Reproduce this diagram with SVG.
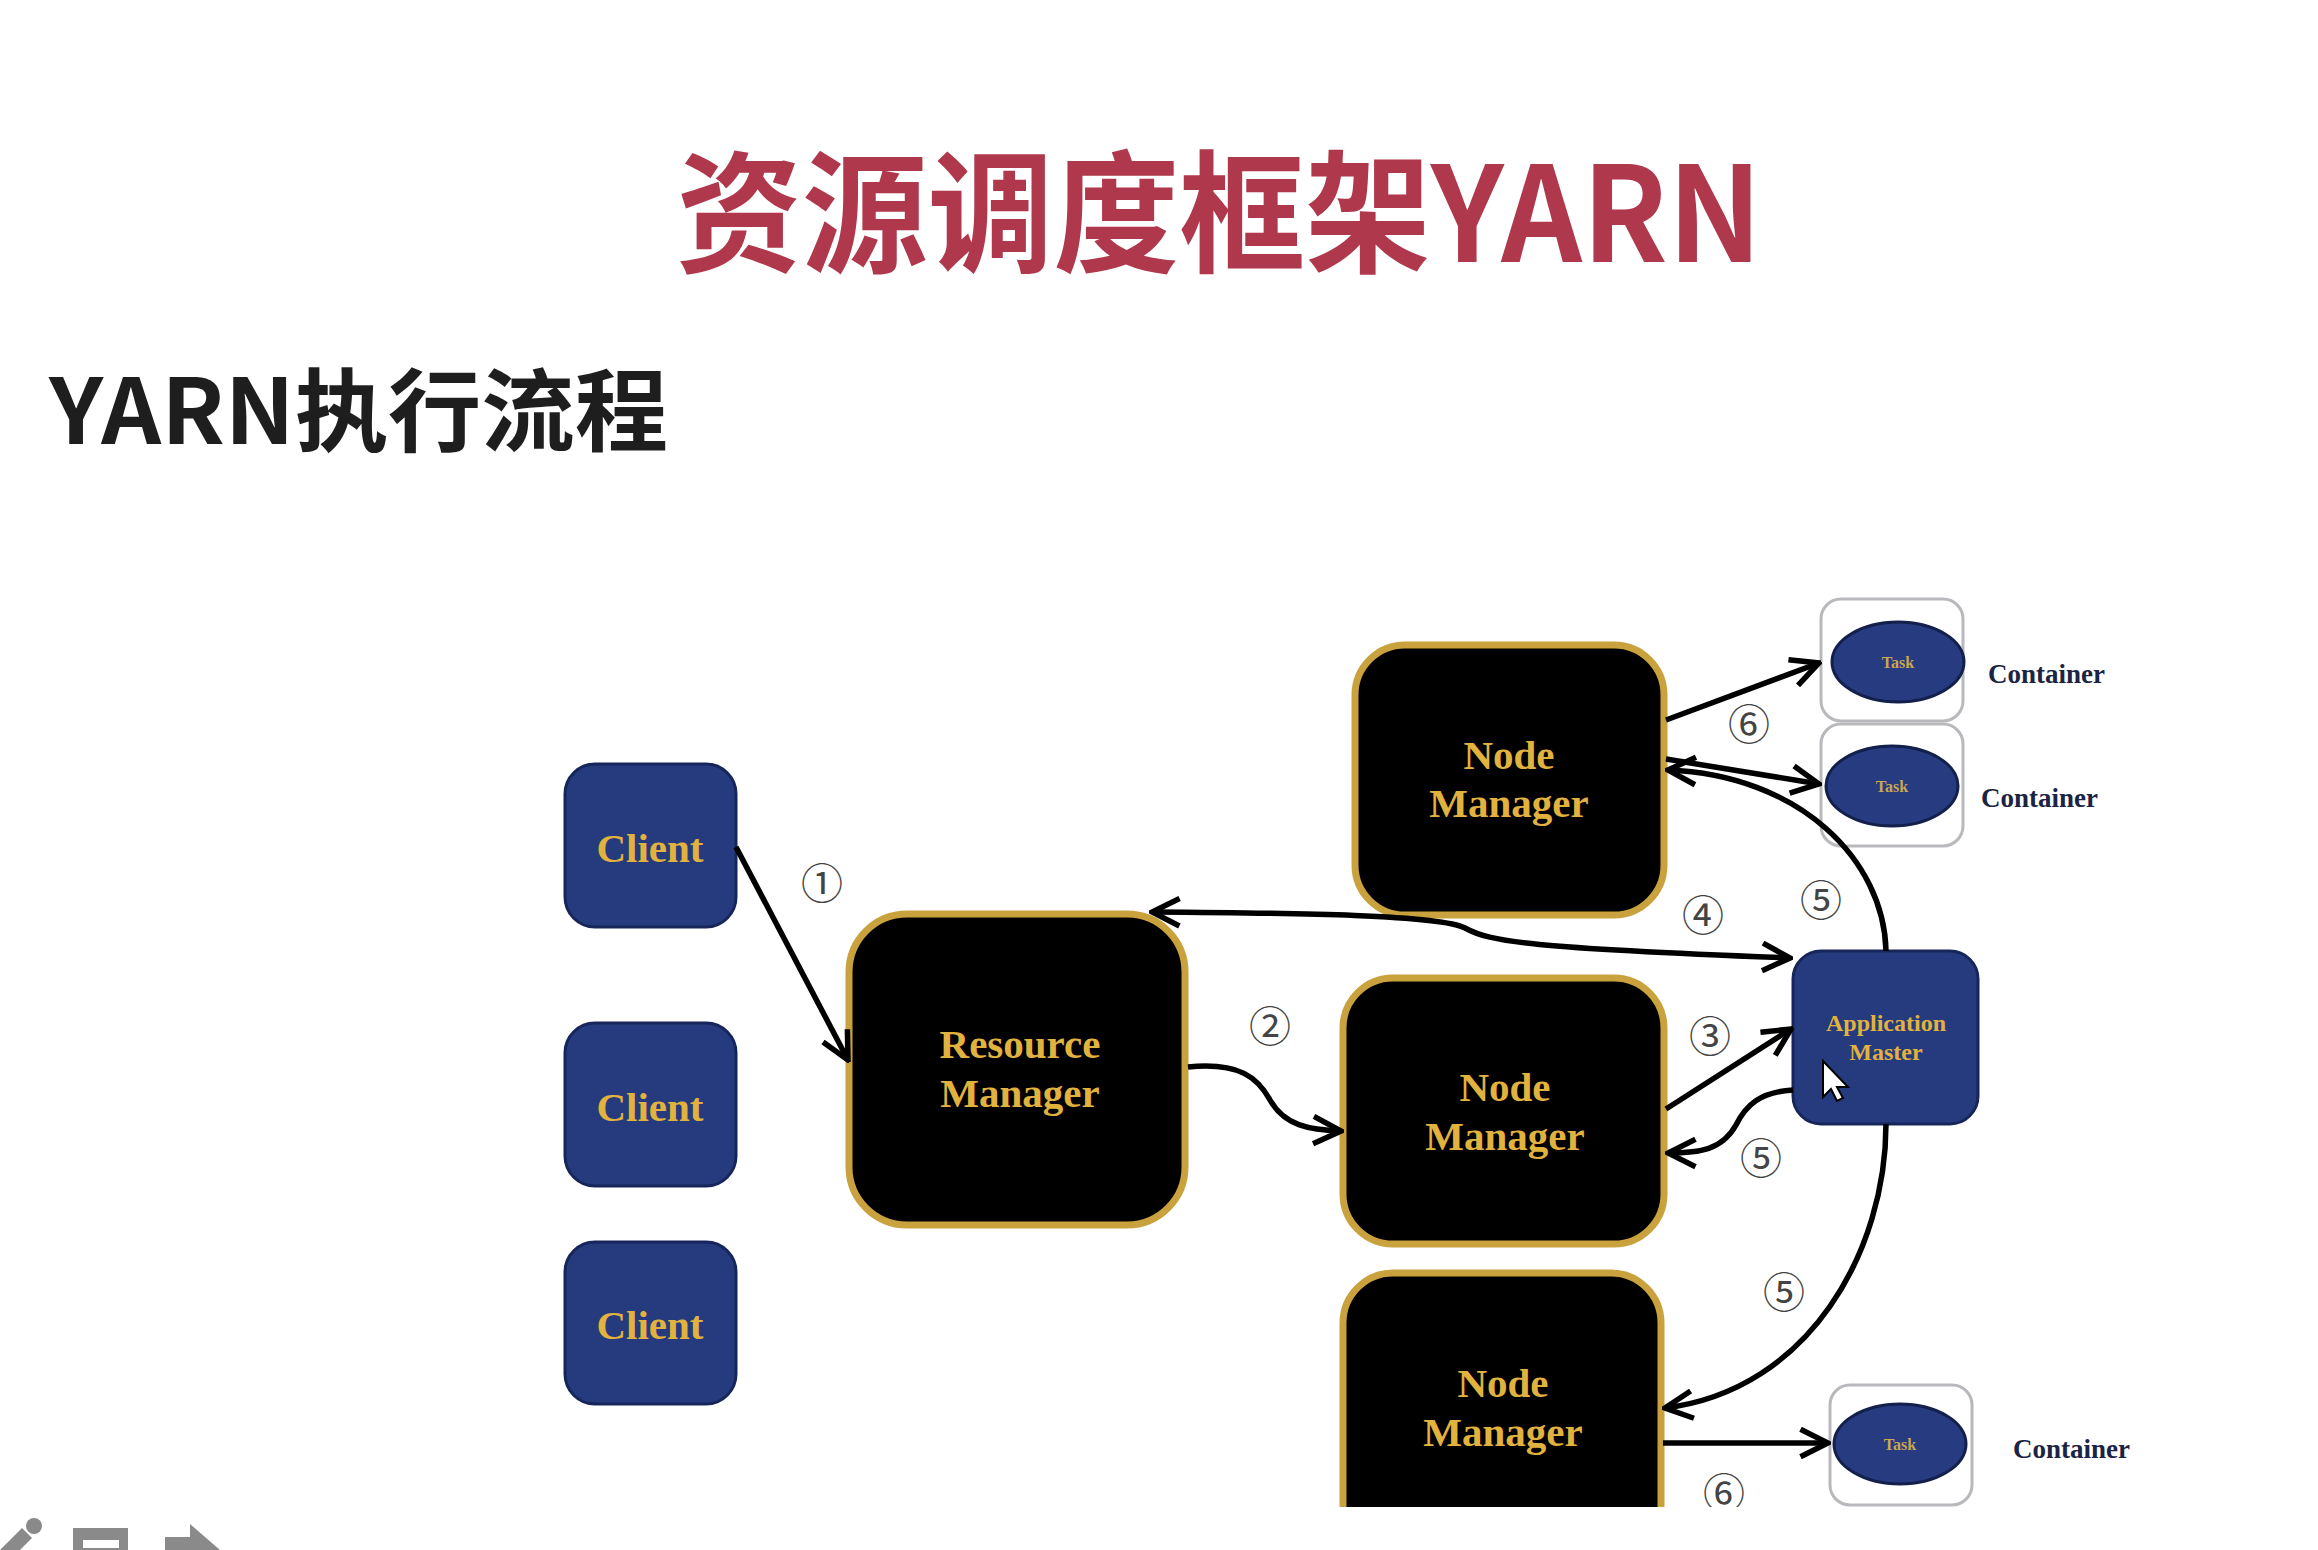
<svg xmlns="http://www.w3.org/2000/svg" width="2318" height="1550" viewBox="0 0 2318 1550">
<defs>
<style>
.client{fill:#263b7e;stroke:#17265a;stroke-width:3}
.blk{fill:#000;stroke:#c9a23e;stroke-width:7}
.am{fill:#263b7e;stroke:#17265a;stroke-width:3}
.cont{fill:#fff;stroke:#b9b9bd;stroke-width:3}
.task{fill:#263b80;stroke:#14204c;stroke-width:3}
.lbl{font-family:"Liberation Serif","Times New Roman",serif;font-weight:bold;fill:#e2b23e;text-anchor:middle}
.tsk{font-family:"Liberation Serif","Times New Roman",serif;font-weight:bold;fill:#c9a850;text-anchor:middle;font-size:16px}
.ctr{font-family:"Liberation Serif","Times New Roman",serif;font-weight:bold;fill:#1c2444;font-size:27px}
.num{font-family:"Noto Sans CJK SC","DejaVu Sans",sans-serif;font-size:42px;fill:#444;text-anchor:middle;dominant-baseline:central}
.con{fill:none;stroke:#000;stroke-width:5.5}
</style>
<marker id="arr" viewBox="0 0 12 12" refX="11" refY="6" markerWidth="6" markerHeight="6" orient="auto-start-reverse">
<path d="M1,1 L11,6 L1,11" fill="none" stroke="#000" stroke-width="2"/>
</marker>
<clipPath id="cut"><rect x="0" y="0" width="2318" height="1507"/></clipPath>
</defs>
<rect width="2318" height="1550" fill="#fff"/>
<text x="1219" y="262" font-family="'Noto Sans CJK SC',sans-serif" font-weight="bold" font-size="132" fill="#b0384d" text-anchor="middle" textLength="1086" lengthAdjust="spacingAndGlyphs">资源调度框架YARN</text>
<text x="49" y="444" font-family="'Noto Sans CJK SC',sans-serif" font-weight="bold" font-size="90" fill="#1e1e1e" textLength="619" lengthAdjust="spacingAndGlyphs">YARN执行流程</text>

<g id="client1"><rect class="client" x="565" y="764" width="171" height="163" rx="30"/><text class="lbl" x="650" y="862" font-size="41">Client</text></g>
<g id="client2"><rect class="client" x="565" y="1023" width="171" height="163" rx="30"/><text class="lbl" x="650" y="1121" font-size="41">Client</text></g>
<g id="client3"><rect class="client" x="565" y="1242" width="171" height="162" rx="30"/><text class="lbl" x="650" y="1339" font-size="41">Client</text></g>

<g id="rm"><rect class="blk" x="849" y="914" width="336" height="311" rx="58"/><text class="lbl" x="1020" y="1058" font-size="41">Resource</text><text class="lbl" x="1020" y="1107" font-size="41">Manager</text></g>

<g id="nm1"><rect class="blk" x="1355" y="645" width="309" height="270" rx="50"/><text class="lbl" x="1509" y="769" font-size="41">Node</text><text class="lbl" x="1509" y="817" font-size="41">Manager</text></g>
<g id="nm2"><rect class="blk" x="1343" y="978" width="321" height="266" rx="50"/><text class="lbl" x="1505" y="1101" font-size="41">Node</text><text class="lbl" x="1505" y="1150" font-size="41">Manager</text></g>
<g id="nm3" clip-path="url(#cut)"><rect class="blk" x="1343" y="1273" width="318" height="290" rx="50"/><text class="lbl" x="1503" y="1397" font-size="41">Node</text><text class="lbl" x="1503" y="1446" font-size="41">Manager</text></g>

<g id="am"><rect class="am" x="1793" y="951" width="185" height="173" rx="28"/><text class="lbl" x="1886" y="1031" font-size="24">Application</text><text class="lbl" x="1886" y="1060" font-size="24">Master</text></g>

<g id="container1"><rect class="cont" x="1821" y="599" width="142" height="122" rx="20"/><ellipse class="task" cx="1898" cy="662" rx="66" ry="40"/><text class="tsk" x="1898" y="668">Task</text><text class="ctr" x="1988" y="683">Container</text></g>
<g id="container2"><rect class="cont" x="1821" y="724" width="142" height="122" rx="20"/><ellipse class="task" cx="1892" cy="786" rx="66" ry="40"/><text class="tsk" x="1892" y="792">Task</text><text class="ctr" x="1981" y="807">Container</text></g>
<g id="container3"><rect class="cont" x="1830" y="1385" width="142" height="120" rx="20"/><ellipse class="task" cx="1900" cy="1444" rx="66" ry="40"/><text class="tsk" x="1900" y="1450">Task</text><text class="ctr" x="2013" y="1458">Container</text></g>

<g id="connectors">
<path class="con" d="M736,847 L848,1060" marker-end="url(#arr)"/>
<path class="con" d="M1188,1067 C1240,1062 1258,1078 1270,1100 C1285,1126 1310,1130 1341,1131" marker-end="url(#arr)"/>
<path class="con" d="M1666,1109 L1791,1029" marker-end="url(#arr)"/>
<path class="con" d="M1152,912 C1300,913 1440,915 1465,928 C1490,942 1530,948 1790,958" marker-start="url(#arr)" marker-end="url(#arr)"/>
<path class="con" d="M1886,951 C1884,860 1800,775 1668,770" marker-end="url(#arr)"/>
<path class="con" d="M1666,720 L1819,663" marker-end="url(#arr)"/>
<path class="con" d="M1666,759 L1819,784" marker-end="url(#arr)"/>
<path class="con" d="M1793,1090 C1760,1092 1746,1105 1736,1125 C1722,1150 1700,1153 1668,1153" marker-end="url(#arr)"/>
<path class="con" d="M1886,1124 C1886,1250 1810,1390 1665,1408" marker-end="url(#arr)"/>
<path class="con" d="M1663,1443 L1828,1443" marker-end="url(#arr)"/>
</g>

<g id="labels">
<text class="num" x="822" y="880">①</text>
<text class="num" x="1270" y="1023">②</text>
<text class="num" x="1710" y="1033">③</text>
<text class="num" x="1703" y="912">④</text>
<text class="num" x="1821" y="897">⑤</text>
<text class="num" x="1761" y="1155">⑤</text>
<text class="num" x="1784" y="1289">⑤</text>
<text class="num" x="1749" y="721">⑥</text>
<text class="num" x="1724" y="1490" clip-path="url(#cut)">⑥</text>
</g>

<polygon points="1823,1061 1823,1097 1831,1089 1837,1101 1843,1098 1837,1087 1848,1087" fill="#fff" stroke="#000" stroke-width="2"/>

<g fill="#8a8a8a">
<path d="M0,1550 L22,1528 L32,1538 L20,1550 Z"/>
<circle cx="34" cy="1526" r="8"/>
<rect x="73" y="1528" width="55" height="22"/>
<rect x="83" y="1540" width="36" height="8" fill="#fff"/>
<path d="M165,1537 L190,1537 L190,1524 L220,1550 L165,1550 Z"/>
</g>
</svg>
